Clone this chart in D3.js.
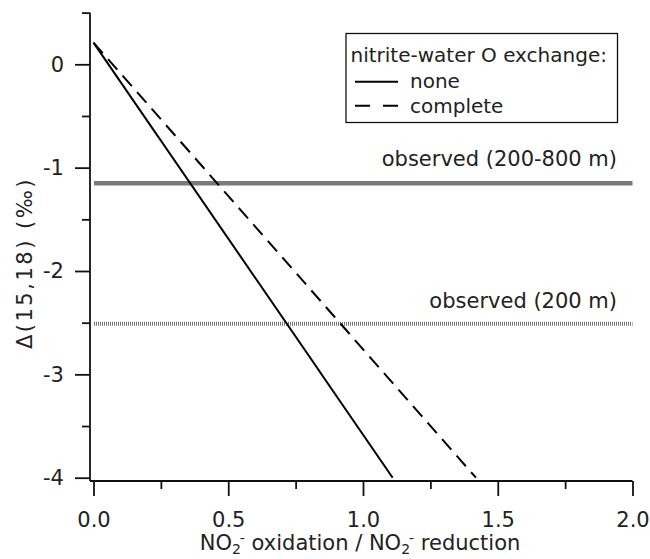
<!DOCTYPE html>
<html>
<head>
<meta charset="utf-8">
<script src="https://cdn.jsdelivr.net/npm/d3@7"></script>
<style>
  body { margin: 0; background: #fff; }
  text { font-family: "DejaVu Sans", sans-serif; fill: #222; }
</style>
</head>
<body>
<div id="chart"></div>
<script>
// model lines: delta(15,18) vs ratio of nitrite oxidation / reduction
var ratioNone = [0, 1.11];
var deltaNone = [0.21, -4];
var ratioComplete = [0, 1.419];
var deltaComplete = [0.21, -4];

var observedDeep = -1.15;     // 200-800 m
var observedShallow = -2.51;  // 200 m

var xTicks = [0, 0.5, 1.0, 1.5, 2.0];
var xMinor = [0.25, 0.75, 1.25, 1.75];
var yTicks = [0, -1, -2, -3, -4];
var yMinor = [0.5, -0.5, -1.5, -2.5, -3.5];

var width = 650, height = 559;

var svg = d3.select("#chart")
	.append("svg")
	.attr("width", width)
	.attr("height", height);

var x = d3.scaleLinear().domain([0, 2]).range([93.5, 632.5]);
var y = d3.scaleLinear().domain([-4, 0]).range([477.7, 64.3]);

var axisY0 = 481;  // x axis sits a little below -4
var axisX0 = 90;   // y axis sits a little left of 0

// x axis
var gx = svg.append("g")
	.attr("transform", "translate(0," + axisY0 + ")");
gx.call(d3.axisBottom(x).tickValues(xTicks).tickSize(15).tickPadding(16)
	.tickFormat(d3.format(".1f")));
gx.append("g").call(d3.axisBottom(x).tickValues(xMinor).tickSize(8).tickFormat(""));
gx.selectAll(".domain").remove();
gx.append("line")
	.attr("x1", axisX0).attr("x2", x(2))
	.attr("stroke", "#111").attr("stroke-width", 1.8);

// y axis (plain hyphen for negatives, like the original)
var gy = svg.append("g")
	.attr("transform", "translate(" + axisX0 + ",0)");
gy.call(d3.axisLeft(y).tickValues(yTicks).tickSize(15).tickPadding(11)
	.tickFormat(function(d) { return String(d); }));
gy.append("g").call(d3.axisLeft(y).tickValues(yMinor).tickSize(8).tickFormat(""));
gy.selectAll(".domain").remove();
gy.append("line")
	.attr("y1", y(0.5)).attr("y2", axisY0)
	.attr("stroke", "#111").attr("stroke-width", 1.8);

svg.selectAll(".tick line").attr("stroke", "#111").attr("stroke-width", 1.8);
svg.selectAll(".tick text")
	.style("font-family", "DejaVu Sans")
	.style("font-size", "21px")
	.attr("fill", "#222");

// observed values
svg.append("line")
	.attr("x1", x(0) + 0.5).attr("x2", x(2))
	.attr("y1", y(observedDeep)).attr("y2", y(observedDeep))
	.attr("stroke", "#7a7a7a").attr("stroke-width", 4.5);

svg.append("line")
	.attr("x1", x(0) + 0.5).attr("x2", x(2))
	.attr("y1", y(observedShallow)).attr("y2", y(observedShallow))
	.attr("stroke", "#777").attr("stroke-width", 4)
	.attr("stroke-dasharray", "1,1");

svg.append("text")
	.attr("x", 617).attr("y", y(observedDeep) - 17)
	.attr("text-anchor", "end")
	.style("font-size", "21px")
	.text("observed (200-800 m)");

svg.append("text")
	.attr("x", 617).attr("y", y(observedShallow) - 16)
	.attr("text-anchor", "end")
	.style("font-size", "21px")
	.text("observed (200 m)");

// model lines
var line = d3.line()
	.x(function(d) { return x(d[0]); })
	.y(function(d) { return y(d[1]); });

svg.append("path")
	.attr("d", line(d3.zip(ratioNone, deltaNone)))
	.attr("fill", "none").attr("stroke", "#000").attr("stroke-width", 2);

svg.append("path")
	.attr("d", line(d3.zip(ratioComplete, deltaComplete)))
	.attr("fill", "none").attr("stroke", "#000").attr("stroke-width", 2)
	.attr("stroke-dasharray", "14,8");

// legend
var lg = svg.append("g");
lg.append("rect")
	.attr("x", 346).attr("y", 33.5)
	.attr("width", 271.5).attr("height", 89)
	.attr("fill", "#fff").attr("stroke", "#111").attr("stroke-width", 1.3);
lg.append("text")
	.attr("x", 350.5).attr("y", 62)
	.style("font-size", "20px")
	.text("nitrite-water O exchange:");
lg.append("line")
	.attr("x1", 355).attr("x2", 398).attr("y1", 81.7).attr("y2", 81.7)
	.attr("stroke", "#000").attr("stroke-width", 2);
lg.append("text")
	.attr("x", 410).attr("y", 88)
	.style("font-size", "20px")
	.text("none");
lg.append("line")
	.attr("x1", 355).attr("x2", 398).attr("y1", 105.7).attr("y2", 105.7)
	.attr("stroke", "#000").attr("stroke-width", 2)
	.attr("stroke-dasharray", "15,13");
lg.append("text")
	.attr("x", 410).attr("y", 113)
	.style("font-size", "20px")
	.text("complete");

// axis titles
var xt = svg.append("text")
	.attr("x", 360).attr("y", 550)
	.attr("text-anchor", "middle")
	.style("font-size", "21px");
xt.append("tspan").text("NO");
xt.append("tspan").attr("dy", 4).style("font-size", "14px").text("2");
xt.append("tspan").attr("dy", -11).attr("dx", -1).style("font-size", "14px").text("-");
xt.append("tspan").attr("dy", 7).text(" oxidation / NO");
xt.append("tspan").attr("dy", 4).style("font-size", "14px").text("2");
xt.append("tspan").attr("dy", -11).attr("dx", -1).style("font-size", "14px").text("-");
xt.append("tspan").attr("dy", 7).text(" reduction");

svg.append("text")
	.attr("transform", "translate(32,263) rotate(-90)")
	.attr("text-anchor", "middle")
	.style("font-size", "21px")
	.style("letter-spacing", "2.5px")
	.text("\u0394(15,18) (\u2030)");
</script>
</body>
</html>
